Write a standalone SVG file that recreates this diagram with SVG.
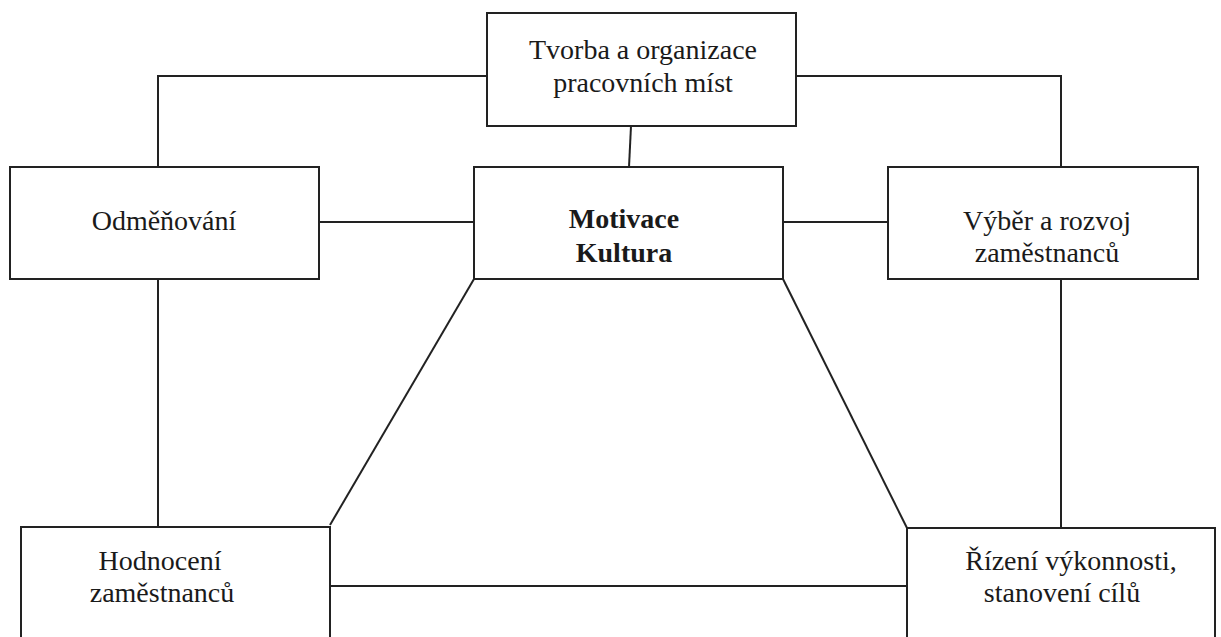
<svg xmlns="http://www.w3.org/2000/svg" width="1221" height="637" viewBox="0 0 1221 637">
<style>
.box{fill:#fff;stroke:#222;stroke-width:2}
.ln{fill:none;stroke:#222;stroke-width:2}
.t{font-family:'Liberation Serif','DejaVu Serif',serif;font-size:28px;fill:#1a1a1a;text-anchor:middle}
.b{font-weight:bold}
</style>
<rect width="1221" height="637" fill="#fff"/>
<g id="connectors">
<polyline class="ln" points="487,76 158,76 158,167"/>
<polyline class="ln" points="796,76 1061,76 1061,167"/>
<line class="ln" x1="631" y1="126" x2="629" y2="167"/>
<line class="ln" x1="319" y1="222" x2="474" y2="222"/>
<line class="ln" x1="783" y1="222" x2="888" y2="222"/>
<line class="ln" x1="158" y1="279" x2="158" y2="527"/>
<line class="ln" x1="1061" y1="279" x2="1061" y2="528"/>
<line class="ln" x1="474" y1="279" x2="330" y2="525"/>
<line class="ln" x1="783" y1="279" x2="907" y2="528"/>
<line class="ln" x1="330" y1="586" x2="907" y2="586"/>
</g>
<g id="tvorba">
<rect class="box" x="487" y="13" width="309" height="113"/>
<text class="t" font-family="Liberation Serif, serif" x="643" y="59">Tvorba a organizace</text>
<text class="t" font-family="Liberation Serif, serif" x="643" y="92">pracovních míst</text>
</g>
<g id="odmenovani">
<rect class="box" x="10" y="167" width="309" height="112"/>
<text class="t" x="164" y="230">Odměňování</text>
</g>
<g id="motivace">
<rect class="box" x="474" y="167" width="309" height="112"/>
<text class="t b" x="624" y="228">Motivace</text>
<text class="t b" x="624" y="262">Kultura</text>
</g>
<g id="vyber">
<rect class="box" x="888" y="167" width="310" height="112"/>
<text class="t" x="1047" y="230">Výběr a rozvoj</text>
<text class="t" x="1047" y="262">zaměstnanců</text>
</g>
<g id="hodnoceni">
<rect class="box" x="21" y="527" width="309" height="120"/>
<text class="t" x="160" y="570">Hodnocení</text>
<text class="t" x="162" y="602">zaměstnanců</text>
</g>
<g id="rizeni">
<rect class="box" x="907" y="528" width="308" height="120"/>
<text class="t" x="1071" y="570">Řízení výkonnosti,</text>
<text class="t" x="1062" y="602">stanovení cílů</text>
</g>
</svg>
